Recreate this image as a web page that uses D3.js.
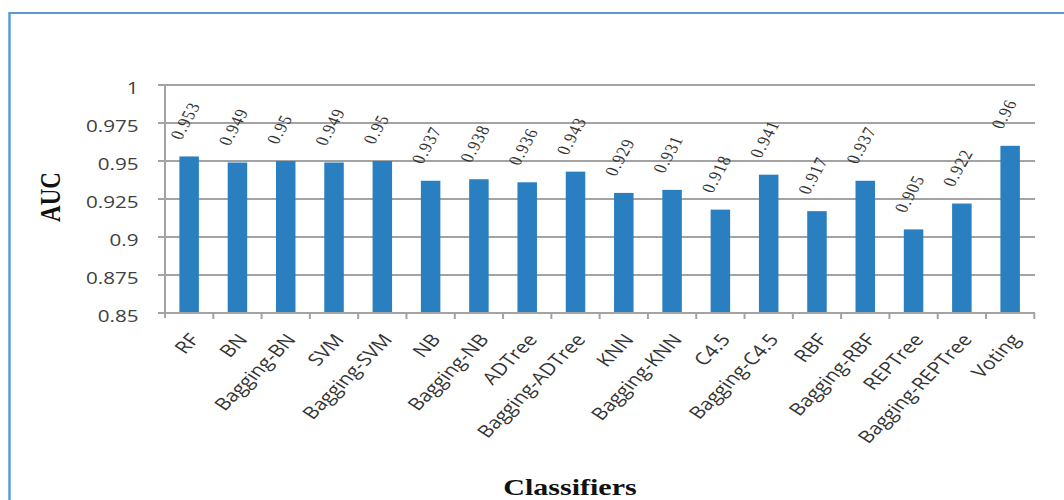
<!DOCTYPE html>
<html>
<head>
<meta charset="utf-8">
<script src="https://cdn.jsdelivr.net/npm/d3@7"></script>
<style>
html,body{margin:0;padding:0;background:#fff;}
svg{display:block;}
</style>
</head>
<body>
<svg id="chart" width="1064" height="500"></svg>
<script>
const categories = ["RF","BN","Bagging-BN","SVM","Bagging-SVM","NB","Bagging-NB","ADTree","Bagging-ADTree","KNN","Bagging-KNN","C4.5","Bagging-C4.5","RBF","Bagging-RBF","REPTree","Bagging-REPTree","Voting"];
const aucValues = [0.953,0.949,0.95,0.949,0.95,0.937,0.938,0.936,0.943,0.929,0.931,0.918,0.941,0.917,0.937,0.905,0.922,0.96];
const valueLabels = ["0.953","0.949","0.95","0.949","0.95","0.937","0.938","0.936","0.943","0.929","0.931","0.918","0.941","0.917","0.937","0.905","0.922","0.96"];
const yTicks = [0.85,0.875,0.9,0.925,0.95,0.975,1];
const yTickLabels = ["0.85","0.875","0.9","0.925","0.95","0.975","1"];
const yTitle = "AUC";
const xTitle = "Classifiers";

const SX = 1.25; // horizontal stretch of the original picture
const svg = d3.select("#chart");
const g = svg.append("g").attr("transform", `scale(${SX},1)`);

// frame
g.append("path")
  .attr("d", `M${9.5/SX},500 L${9.5/SX},13 L${1070/SX},13`)
  .attr("fill","none").attr("stroke","#5b9bd5").attr("stroke-width",2);

const x0 = 165/SX, x1 = 1034.3/SX;
const xb = d3.scaleBand().domain(categories).range([x0, x1]);
const y = d3.scaleLinear().domain([0.85, 1]).range([313, 85]);

// gridlines
g.append("g").selectAll("line").data(yTicks).join("line")
  .attr("x1", 158/SX).attr("x2", 1035/SX)
  .attr("y1", d => y(d)).attr("y2", d => y(d))
  .attr("stroke","#a3a3a3").attr("stroke-width",2);

// y axis line
g.append("line").attr("x1", x0).attr("x2", x0).attr("y1", y(1)).attr("y2", y(0.85)+5)
  .attr("stroke","#a3a3a3").attr("stroke-width",2/SX);

// x ticks at band boundaries
g.append("g").selectAll("line").data(categories).join("line")
  .attr("x1", d => xb(d) + xb.bandwidth())
  .attr("x2", d => xb(d) + xb.bandwidth())
  .attr("y1", y(0.85)).attr("y2", y(0.85)+6)
  .attr("stroke","#a3a3a3").attr("stroke-width",2/SX);

// y tick labels
g.append("g").selectAll("text").data(yTicks).join("text")
  .attr("x", 138.5/SX).attr("y", d => y(d) + 9)
  .attr("text-anchor","end")
  .attr("font-family","'Open Sans', sans-serif").attr("font-size",16.5)
  .attr("fill","#404040")
  .text((d,i) => yTickLabels[i]);

// bars
const cx = d => xb(d) + xb.bandwidth()/2;
const bw = 19.5/SX;
g.append("g").selectAll("rect").data(categories).join("rect")
  .attr("x", d => cx(d) - bw/2)
  .attr("width", bw)
  .attr("y", (d,i) => y(aucValues[i]))
  .attr("height", (d,i) => y(0.85) - y(aucValues[i]))
  .attr("fill","#2a7fc1");

// bottom axis line
g.append("line").attr("x1", x0).attr("x2", x1).attr("y1", y(0.85)).attr("y2", y(0.85))
  .attr("stroke","#a3a3a3").attr("stroke-width",2);

// value labels
g.append("g").selectAll("text").data(categories).join("text")
  .attr("transform", (d,i) => `translate(${cx(d) - 8/SX},${y(aucValues[i]) - 16}) rotate(-66)`)
  .attr("font-family","'Liberation Serif', serif").attr("font-size",15)
  .attr("letter-spacing",1)
  .attr("fill","#333")
  .text((d,i) => valueLabels[i]);

// category labels
g.append("g").selectAll("text").data(categories).join("text")
  .attr("transform", d => `translate(${cx(d) + 11/SX},${y(0.85) + 27}) rotate(-51.3)`)
  .attr("text-anchor","end")
  .attr("font-family","'Open Sans', sans-serif").attr("font-size",17)
  .attr("fill","#333")
  .text(d => d);

// axis titles
g.append("text")
  .attr("transform", `translate(${60/SX},197) rotate(-90)`)
  .attr("text-anchor","middle")
  .attr("font-family","'Liberation Serif', serif").attr("font-weight","bold").attr("font-size",23)
  .attr("fill","#111")
  .text(yTitle);

g.append("text")
  .attr("x", 570/SX).attr("y", 495)
  .attr("text-anchor","middle")
  .attr("font-family","'Liberation Serif', serif").attr("font-weight","bold").attr("font-size",24)
  .attr("fill","#111")
  .text(xTitle);
</script>
</body>
</html>
